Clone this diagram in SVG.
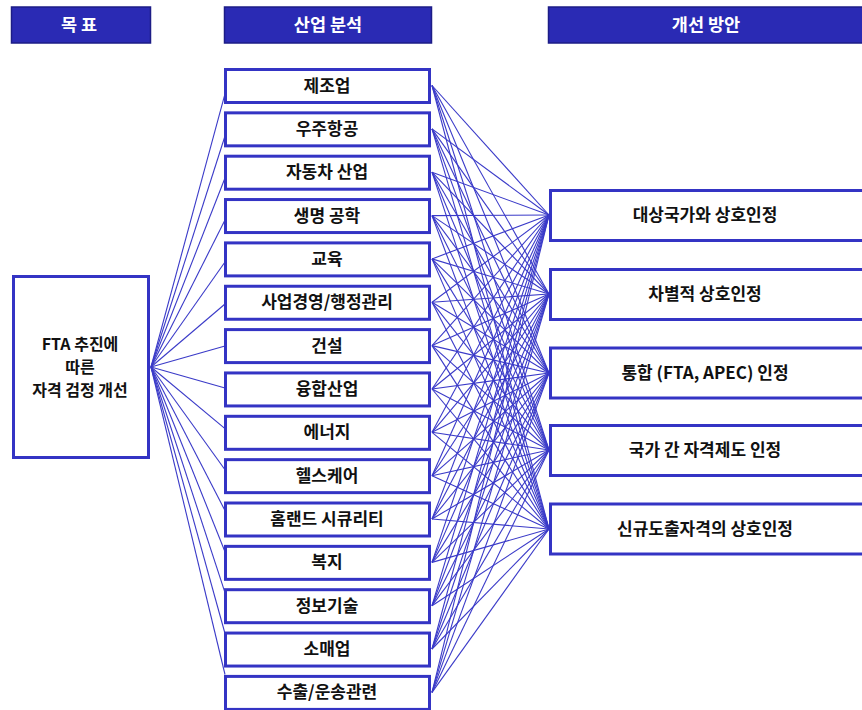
<svg xmlns="http://www.w3.org/2000/svg" width="862" height="710" viewBox="0 0 862 710">
<style>
.hdr{fill:#2a2ab4;stroke:#1c1c86;stroke-width:1.5}
.ht{fill:#ffffff;font-family:"Noto Sans CJK KR","Noto Sans",sans-serif;font-size:17.5px;font-weight:bold;text-anchor:middle}
.box{fill:#ffffff;stroke:#3434c4;stroke-width:3}
.t{fill:#111111;font-family:"Noto Sans CJK KR","Noto Sans",sans-serif;font-size:17px;font-weight:bold;text-anchor:middle}
.g{font-size:16px}
.c line{stroke:#3a3ac8;stroke-width:1.1}
</style>
<rect x="0" y="0" width="862" height="710" fill="#ffffff"/>
<g id="connectors" class="c">
<line x1="151" y1="367" x2="225" y2="93.9"/>
<line x1="151" y1="367" x2="225" y2="136"/>
<line x1="151" y1="367" x2="225" y2="178"/>
<line x1="151" y1="367" x2="225" y2="220"/>
<line x1="151" y1="367" x2="225" y2="262"/>
<line x1="151" y1="367" x2="225" y2="304"/>
<line x1="151" y1="367" x2="225" y2="346"/>
<line x1="151" y1="367" x2="225" y2="388"/>
<line x1="151" y1="367" x2="225" y2="428.7"/>
<line x1="151" y1="367" x2="225" y2="469.7"/>
<line x1="151" y1="367" x2="225" y2="510.6"/>
<line x1="151" y1="367" x2="225" y2="551.7"/>
<line x1="151" y1="367" x2="225" y2="592.6"/>
<line x1="151" y1="367" x2="225" y2="633.5"/>
<line x1="151" y1="367" x2="225" y2="674.5"/>
<g id="right-connectors">
<line x1="432" y1="85.5" x2="549" y2="215"/><line x1="432" y1="85.5" x2="549" y2="294"/><line x1="432" y1="85.5" x2="549" y2="373"/><line x1="432" y1="85.5" x2="549" y2="450"/><line x1="432" y1="85.5" x2="549" y2="529"/>
<line x1="432" y1="128.9" x2="549" y2="215"/><line x1="432" y1="128.9" x2="549" y2="294"/><line x1="432" y1="128.9" x2="549" y2="373"/><line x1="432" y1="128.9" x2="549" y2="450"/><line x1="432" y1="128.9" x2="549" y2="529"/>
<line x1="432" y1="172.2" x2="549" y2="215"/><line x1="432" y1="172.2" x2="549" y2="294"/><line x1="432" y1="172.2" x2="549" y2="373"/><line x1="432" y1="172.2" x2="549" y2="450"/><line x1="432" y1="172.2" x2="549" y2="529"/>
<line x1="432" y1="215.6" x2="549" y2="215"/><line x1="432" y1="215.6" x2="549" y2="294"/><line x1="432" y1="215.6" x2="549" y2="373"/><line x1="432" y1="215.6" x2="549" y2="450"/><line x1="432" y1="215.6" x2="549" y2="529"/>
<line x1="432" y1="258.9" x2="549" y2="215"/><line x1="432" y1="258.9" x2="549" y2="294"/><line x1="432" y1="258.9" x2="549" y2="373"/><line x1="432" y1="258.9" x2="549" y2="450"/><line x1="432" y1="258.9" x2="549" y2="529"/>
<line x1="432" y1="302.3" x2="549" y2="215"/><line x1="432" y1="302.3" x2="549" y2="294"/><line x1="432" y1="302.3" x2="549" y2="373"/><line x1="432" y1="302.3" x2="549" y2="450"/><line x1="432" y1="302.3" x2="549" y2="529"/>
<line x1="432" y1="345.6" x2="549" y2="215"/><line x1="432" y1="345.6" x2="549" y2="294"/><line x1="432" y1="345.6" x2="549" y2="373"/><line x1="432" y1="345.6" x2="549" y2="450"/><line x1="432" y1="345.6" x2="549" y2="529"/>
<line x1="432" y1="389" x2="549" y2="215"/><line x1="432" y1="389" x2="549" y2="294"/><line x1="432" y1="389" x2="549" y2="373"/><line x1="432" y1="389" x2="549" y2="450"/><line x1="432" y1="389" x2="549" y2="529"/>
<line x1="432" y1="432.3" x2="549" y2="215"/><line x1="432" y1="432.3" x2="549" y2="294"/><line x1="432" y1="432.3" x2="549" y2="373"/><line x1="432" y1="432.3" x2="549" y2="450"/><line x1="432" y1="432.3" x2="549" y2="529"/>
<line x1="432" y1="475.7" x2="549" y2="215"/><line x1="432" y1="475.7" x2="549" y2="294"/><line x1="432" y1="475.7" x2="549" y2="373"/><line x1="432" y1="475.7" x2="549" y2="450"/><line x1="432" y1="475.7" x2="549" y2="529"/>
<line x1="432" y1="519" x2="549" y2="215"/><line x1="432" y1="519" x2="549" y2="294"/><line x1="432" y1="519" x2="549" y2="373"/><line x1="432" y1="519" x2="549" y2="450"/><line x1="432" y1="519" x2="549" y2="529"/>
<line x1="432" y1="562.4" x2="549" y2="215"/><line x1="432" y1="562.4" x2="549" y2="294"/><line x1="432" y1="562.4" x2="549" y2="373"/><line x1="432" y1="562.4" x2="549" y2="450"/><line x1="432" y1="562.4" x2="549" y2="529"/>
<line x1="432" y1="605.7" x2="549" y2="215"/><line x1="432" y1="605.7" x2="549" y2="294"/><line x1="432" y1="605.7" x2="549" y2="373"/><line x1="432" y1="605.7" x2="549" y2="450"/><line x1="432" y1="605.7" x2="549" y2="529"/>
<line x1="432" y1="649" x2="549" y2="215"/><line x1="432" y1="649" x2="549" y2="294"/><line x1="432" y1="649" x2="549" y2="373"/><line x1="432" y1="649" x2="549" y2="450"/><line x1="432" y1="649" x2="549" y2="529"/>
<line x1="432" y1="692.4" x2="549" y2="215"/><line x1="432" y1="692.4" x2="549" y2="294"/><line x1="432" y1="692.4" x2="549" y2="373"/><line x1="432" y1="692.4" x2="549" y2="450"/><line x1="432" y1="692.4" x2="549" y2="529"/>
</g>
</g>
<g id="hdr-goal"><rect class="hdr" x="11.5" y="7" width="139" height="36"/><text class="ht" x="79" y="31">목 표</text></g>
<g id="hdr-industry"><rect class="hdr" x="224.5" y="7" width="207" height="36"/><text class="ht" x="328" y="31">산업 분석</text></g>
<g id="hdr-plan"><rect class="hdr" x="548.5" y="7" width="330" height="36"/><text class="ht" x="706" y="31">개선 방안</text></g>
<g id="goal"><rect class="box" x="13.5" y="276.5" width="135" height="181"/>
<text class="t g" x="80" y="350">FTA 추진에</text><text class="t g" x="80" y="373">따른</text><text class="t g" x="80" y="396">자격 검정 개선</text></g>
<g id="n0"><rect class="box" x="225.5" y="69.5" width="204" height="33"/><text class="t" x="327" y="91.5">제조업</text></g>
<g id="n1"><rect class="box" x="225.5" y="112.85" width="204" height="33"/><text class="t" x="327" y="134.9">우주항공</text></g>
<g id="n2"><rect class="box" x="225.5" y="156.2" width="204" height="33"/><text class="t" x="327" y="178.2">자동차 산업</text></g>
<g id="n3"><rect class="box" x="225.5" y="199.55" width="204" height="33"/><text class="t" x="327" y="221.6">생명 공학</text></g>
<g id="n4"><rect class="box" x="225.5" y="242.9" width="204" height="33"/><text class="t" x="327" y="264.9">교육</text></g>
<g id="n5"><rect class="box" x="225.5" y="286.25" width="204" height="33"/><text class="t" x="327" y="308.3">사업경영/행정관리</text></g>
<g id="n6"><rect class="box" x="225.5" y="329.6" width="204" height="33"/><text class="t" x="327" y="351.6">건설</text></g>
<g id="n7"><rect class="box" x="225.5" y="372.95" width="204" height="33"/><text class="t" x="327" y="395">융합산업</text></g>
<g id="n8"><rect class="box" x="225.5" y="416.3" width="204" height="33"/><text class="t" x="327" y="438.3">에너지</text></g>
<g id="n9"><rect class="box" x="225.5" y="459.65" width="204" height="33"/><text class="t" x="327" y="481.7">헬스케어</text></g>
<g id="n10"><rect class="box" x="225.5" y="503" width="204" height="33"/><text class="t" x="327" y="525">홈랜드 시큐리티</text></g>
<g id="n11"><rect class="box" x="225.5" y="546.35" width="204" height="33"/><text class="t" x="327" y="568.4">복지</text></g>
<g id="n12"><rect class="box" x="225.5" y="589.7" width="204" height="33"/><text class="t" x="327" y="611.7">정보기술</text></g>
<g id="n13"><rect class="box" x="225.5" y="633.05" width="204" height="33"/><text class="t" x="327" y="655.1">소매업</text></g>
<g id="n14"><rect class="box" x="225.5" y="676.4" width="204" height="33"/><text class="t" x="327" y="698.4">수출/운송관련</text></g>
<g id="r0"><rect class="box" x="550.5" y="190.5" width="330" height="50"/><text class="t" x="705" y="221">대상국가와 상호인정</text></g>
<g id="r1"><rect class="box" x="550.5" y="269.5" width="330" height="50"/><text class="t" x="705" y="300">차별적 상호인정</text></g>
<g id="r2"><rect class="box" x="550.5" y="348" width="330" height="50"/><text class="t" x="705" y="378.5">통합 (FTA, APEC) 인정</text></g>
<g id="r3"><rect class="box" x="550.5" y="425.5" width="330" height="50"/><text class="t" x="705" y="456">국가 간 자격제도 인정</text></g>
<g id="r4"><rect class="box" x="550.5" y="504" width="330" height="50"/><text class="t" x="705" y="534.5">신규도출자격의 상호인정</text></g>
</svg>
